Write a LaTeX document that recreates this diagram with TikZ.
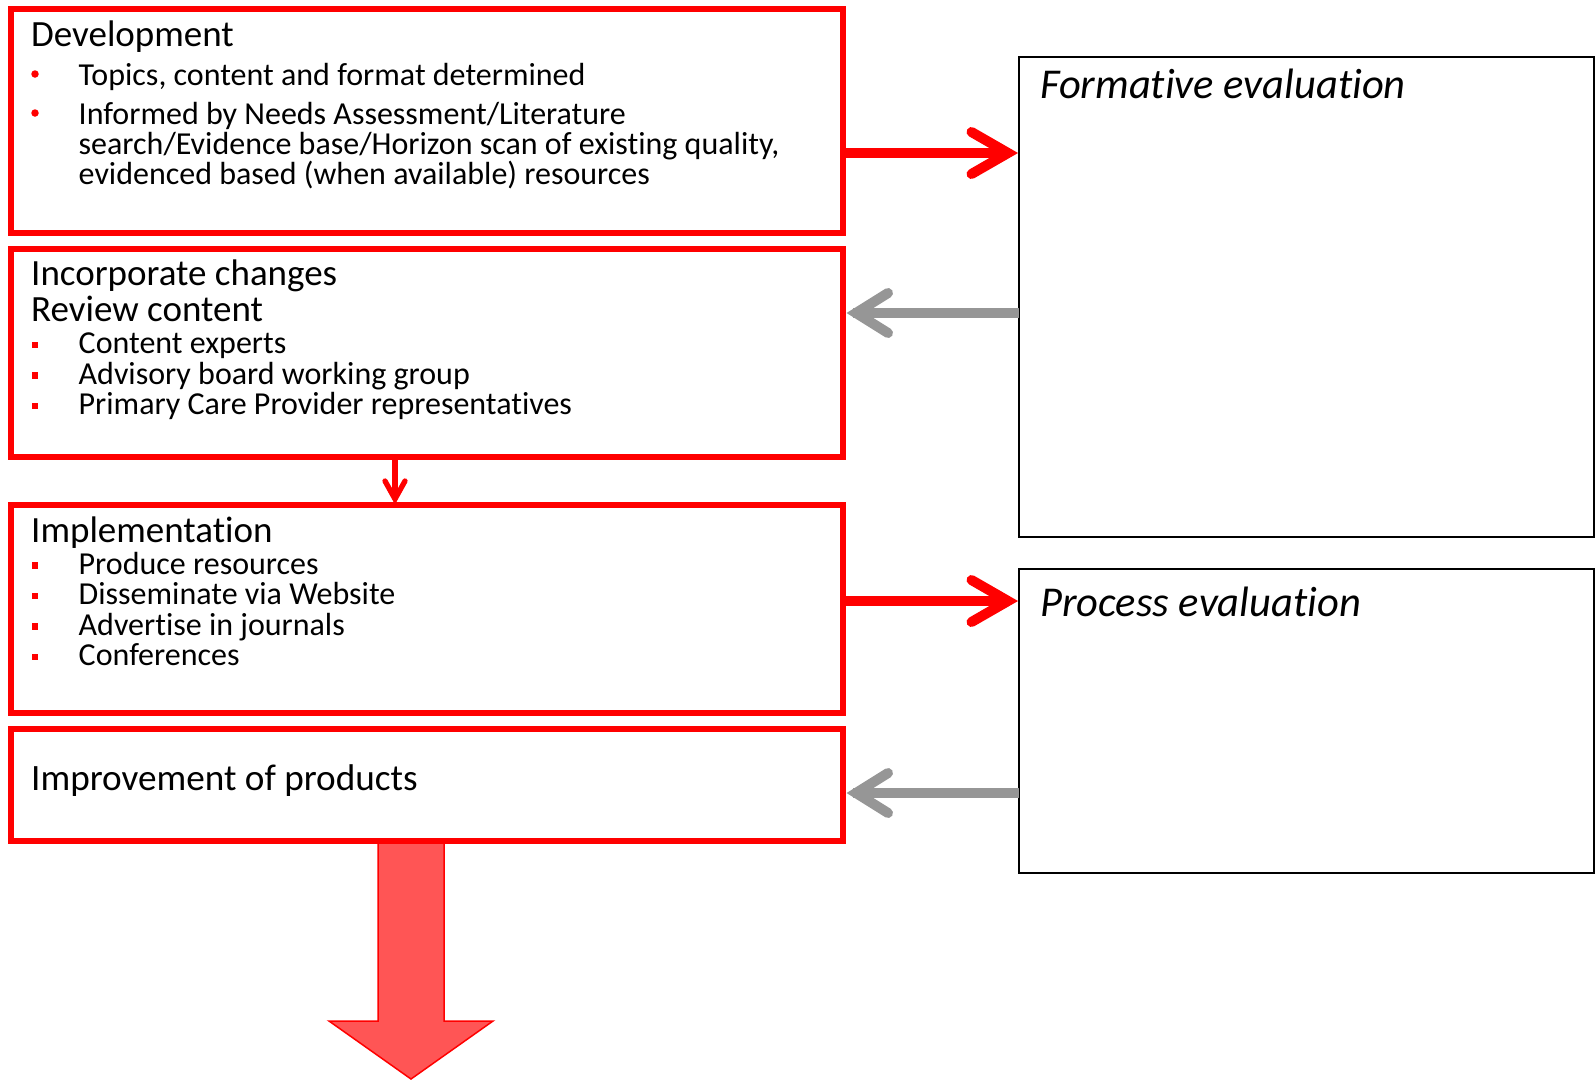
\documentclass[tikz,border=0pt]{standalone}
\usepackage{fontspec}
\setmainfont{Carlito}[RawFeature={-liga;-clig;-calt;-dlig}]
\usetikzlibrary{calc}
\definecolor{pred}{RGB}{255,0,0}
\definecolor{pgray}{RGB}{150,150,150}
\definecolor{pfill}{RGB}{255,85,85}
\begin{document}
\begin{tikzpicture}[x=1pt,y=-1pt,
 redbox/.style={draw=pred, line width=5.3pt, outer sep=0pt, inner sep=0pt, anchor=north west},
 evalbox/.style={draw=black, line width=2pt, outer sep=0pt, inner sep=0pt, anchor=north west},
 headtxt/.style={anchor=base west, inner sep=0pt, font=\fontsize{37}{37}\selectfont},
 itemtxt/.style={anchor=base west, inner sep=0pt, font=\fontsize{32}{32}\selectfont},
 evtitle/.style={anchor=base west, inner sep=0pt, font=\fontsize{42.5}{42.5}\selectfont\itshape},
 dotb/.style={circle, fill=pred, inner sep=0pt, minimum size=7.5pt},
 sqb/.style={rectangle, fill=pred, inner sep=0pt, minimum size=6.5pt},
 redshaft/.style={draw=pred, line width=10pt},
 redchev/.style={draw=pred, line width=10pt, line cap=round, line join=miter},
 grayshaft/.style={draw=pgray, line width=10pt},
 graychev/.style={draw=pgray, line width=10pt, line cap=round, line join=miter},
 smallshaft/.style={draw=pred, line width=5.3pt},
 smallchev/.style={draw=pred, line width=5.3pt, line cap=round, line join=miter},
 bigarrow/.style={fill=pfill, draw=pred, line width=1.5pt, line join=miter},
]
\useasboundingbox (0,0) rectangle (1595,1080);
\fill[white] (0,0) rectangle (1595,1080);

% big down arrow (behind box 4)
\node[redbox, draw=none, minimum width=832pt, minimum height=112pt] (impbox0) at (11,729) {};
\draw[bigarrow] ($(impbox0.south west)+(367,0)$) -- ($(impbox0.south west)+(367,180)$)
  -- ($(impbox0.south west)+(318,180)$) -- ($(impbox0.south west)+(400,238)$)
  -- ($(impbox0.south west)+(482,180)$) -- ($(impbox0.south west)+(433,180)$)
  -- ($(impbox0.south west)+(433,0)$) -- cycle;

% left boxes
\node[redbox, minimum width=832pt, minimum height=224pt] (devbox) at (11,9) {};
\node[redbox, minimum width=832pt, minimum height=208pt] (revbox) at (11,249) {};
\node[redbox, minimum width=832pt, minimum height=208pt] (implbox) at (11,505) {};
\node[redbox, minimum width=832pt, minimum height=112pt] (impbox) at (11,729) {};

% right boxes
\node[evalbox, minimum width=575pt, minimum height=480pt] (formbox) at (1018.5,57) {};
\node[evalbox, minimum width=575pt, minimum height=303.4pt] (procbox) at (1018.5,569.3) {};

% texts box 1
\node[headtxt] (t1) at (31,46) {Development};
\node[dotb] (d1) at (35,74) {};
\node[itemtxt] (t1a) at (78.5,85) {Topics, content and format determined};
\node[dotb] (d2) at (35,113) {};
\node[itemtxt] (t1b) at (78.5,124) {Informed by Needs Assessment/Literature};
\node[itemtxt] (t1c) at (78.5,154) {search/Evidence base/Horizon scan of existing quality,};
\node[itemtxt] (t1d) at (78.5,184) {evidenced based (when available) resources};

% texts box 2
\node[headtxt] (t2) at (31,285.7) {Incorporate changes};
\node[headtxt] (t2b) at (31,321) {Review content};
\node[sqb] (s1) at (35,345) {};
\node[itemtxt] (t2c) at (78.5,353.5) {Content experts};
\node[sqb] (s2) at (35,375.5) {};
\node[itemtxt] (t2d) at (78.5,384) {Advisory board working group};
\node[sqb] (s3) at (35,406) {};
\node[itemtxt] (t2e) at (78.5,414.5) {Primary Care Provider representatives};

% texts box 3
\node[headtxt] (t3) at (31,542) {Implementation};
\node[sqb] (s4) at (35,565.5) {};
\node[itemtxt] (t3a) at (78.5,574) {Produce resources};
\node[sqb] (s5) at (35,596) {};
\node[itemtxt] (t3b) at (78.5,604.5) {Disseminate via Website};
\node[sqb] (s6) at (35,626.5) {};
\node[itemtxt] (t3c) at (78.5,635) {Advertise in journals};
\node[sqb] (s7) at (35,657) {};
\node[itemtxt] (t3d) at (78.5,665.5) {Conferences};

% text box 4
\node[headtxt, font=\fontsize{37.2}{37.2}\selectfont] (t4) at (31,790.7) {Improvement of products};

% eval titles
\node[evtitle] (ft) at (1040,98.3) {Formative evaluation};
\node[evtitle] (pt) at (1040,616.7) {Process evaluation};

% red arrow dev -> formative
\draw[redshaft] (devbox.east |- 0,153) -- ($(formbox.west |- 0,153)+(-10,0)$);
\draw[redchev] ($(formbox.west |- 0,153)+(-47,-21)$) -- ($(formbox.west |- 0,153)+(-10.5,0)$) -- ($(formbox.west |- 0,153)+(-47,21)$);

% gray arrow formative -> review
\draw[grayshaft] (formbox.west |- 0,313) -- ($(revbox.east |- 0,313)+(10,0)$);
\draw[graychev] ($(revbox.east |- 0,313)+(45,-20)$) -- ($(revbox.east |- 0,313)+(13,0)$) -- ($(revbox.east |- 0,313)+(45,20)$);

% small red arrow review -> implementation
\draw[smallshaft] (revbox.south -| 395,0) -- ($(implbox.north -| 395,0)+(0,-6)$);
\draw[smallchev] ($(implbox.north -| 395,0)+(-10,-24)$) -- ($(implbox.north -| 395,0)+(0,-6)$) -- ($(implbox.north -| 395,0)+(10,-24)$);

% red arrow implementation -> process
\draw[redshaft] (implbox.east |- 0,601) -- ($(procbox.west |- 0,601)+(-10,0)$);
\draw[redchev] ($(procbox.west |- 0,601)+(-47,-21)$) -- ($(procbox.west |- 0,601)+(-10.5,0)$) -- ($(procbox.west |- 0,601)+(-47,21)$);

% gray arrow process -> improvement
\draw[grayshaft] (procbox.west |- 0,793) -- ($(impbox.east |- 0,793)+(10,0)$);
\draw[graychev] ($(impbox.east |- 0,793)+(45,-20)$) -- ($(impbox.east |- 0,793)+(13,0)$) -- ($(impbox.east |- 0,793)+(45,20)$);
\end{tikzpicture}
\end{document}
